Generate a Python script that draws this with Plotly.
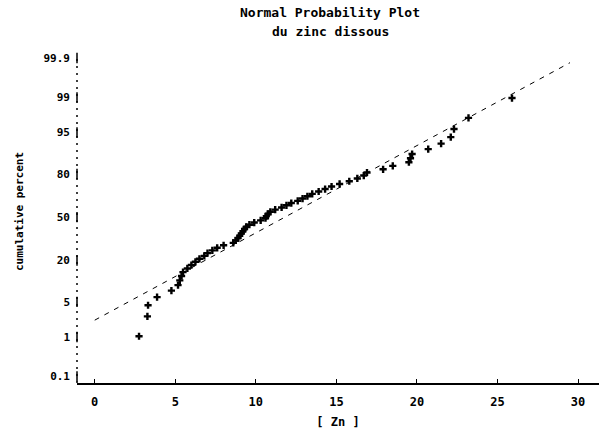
from statistics import NormalDist
import plotly.graph_objects as go

# Dissolved zinc concentrations, sorted ascending
zn_values = [2.75, 3.27, 3.31, 3.87, 4.76, 5.17, 5.28, 5.39, 5.48, 5.75,
             6.0, 6.25, 6.5, 6.8, 7.0, 7.3, 7.6, 8.0, 8.6, 8.75,
             8.9, 9.0, 9.1, 9.2, 9.3, 9.4, 9.6, 9.9, 10.3, 10.6,
             10.65, 10.75, 10.9, 11.2, 11.6, 11.9, 12.2, 12.6, 12.9, 13.2,
             13.5, 13.9, 14.3, 14.7, 15.2, 15.8, 16.3, 16.7, 16.9, 17.9,
             18.5, 19.5, 19.6, 19.7, 20.7, 21.5, 22.1, 22.3, 23.2, 25.9]

# Fitted normal reference line
fit_mean = 11.8
fit_sd = 5.9
fit_x = [0.0, 29.5]

# Probability-axis ticks
pct_ticks = [0.1, 1, 5, 20, 50, 80, 95, 99, 99.9]
pct_labels = ["0.1", "1", "5", "20", "50", "80", "95", "99", "99.9"]
x_ticks = [0, 5, 10, 15, 20, 25, 30]

nd = NormalDist()
n = len(zn_values)
# Blom plotting positions converted to normal scores
z_scores = [nd.inv_cdf((i + 1 - 0.375) / (n + 0.25)) for i in range(n)]
fit_z = [(x - fit_mean) / fit_sd for x in fit_x]
tick_z = [nd.inv_cdf(p / 100.0) for p in pct_ticks]

FONT = "DejaVu Sans Mono"
title_font = dict(family=FONT, size=13, weight="bold")

fig = go.Figure()
fig.add_trace(go.Scatter(
    x=fit_x, y=fit_z, mode="lines",
    line=dict(color="black", width=1, dash="5px,6px"),
    hoverinfo="skip", showlegend=False))
fig.add_trace(go.Scatter(
    x=zn_values, y=z_scores, mode="markers",
    marker=dict(symbol="cross", size=6, color="black"),
    showlegend=False))

# broken vertical axis line with solid marks at each tick
fig.add_shape(type="line", xref="paper", yref="paper", x0=0, x1=0, y0=0, y1=0.95,
              line=dict(color="black", width=1.5, dash="2px,5px"))
for tz in tick_z:
    fig.add_shape(type="line", xref="paper", yref="y", x0=0, x1=0,
                  y0=tz - 0.1, y1=tz + 0.1, line=dict(color="black", width=1.5))

fig.update_layout(
    width=600, height=430,
    margin=dict(l=77, r=1, t=40, b=47),
    paper_bgcolor="white", plot_bgcolor="white",
    font=dict(family=FONT, color="black", size=11, weight="bold"),
    showlegend=False,
    annotations=[
        dict(text="Normal Probability Plot", xref="paper", yref="paper",
             x=0.485, y=1.0, yshift=28, xanchor="center", yanchor="middle",
             showarrow=False, font=title_font),
        dict(text="du zinc dissous", xref="paper", yref="paper",
             x=0.485, y=1.0, yshift=9, xanchor="center", yanchor="middle",
             showarrow=False, font=title_font),
    ],
    xaxis=dict(
        range=[-1.1, 31.3], tickvals=x_ticks,
        showgrid=False, zeroline=False,
        showline=True, linecolor="black", linewidth=2,
        ticks="inside", ticklen=4, tickwidth=1, tickcolor="black",
        ticklabelstandoff=7,
        tickfont=dict(family=FONT, size=12, weight="bold"),
        title=dict(text="[ Zn ]", standoff=9,
                   font=dict(family=FONT, size=12, weight="bold"))),
    yaxis=dict(
        range=[-3.22, 3.44], tickvals=tick_z, ticktext=pct_labels,
        showgrid=False, zeroline=False, showline=False, ticks="",
        ticklabelstandoff=6,
        tickfont=dict(family=FONT, size=11, weight="bold"),
        title=dict(text="cumulative percent", standoff=17,
                   font=dict(family=FONT, size=11, weight="bold"))),
)

fig.write_html("out.html")
